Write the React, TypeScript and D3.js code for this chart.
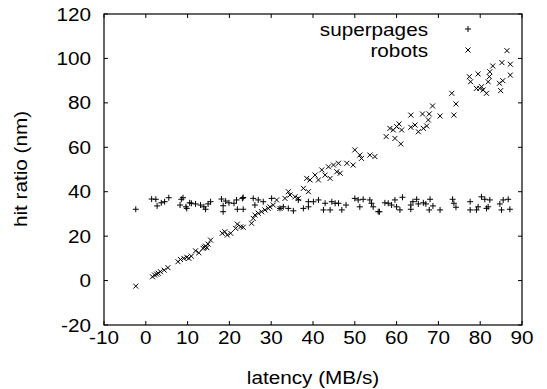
import React from "react";
import * as d3 from "d3";

const xTicks = [-10, 0, 10, 20, 30, 40, 50, 60, 70, 80, 90];
const yTicks = [-20, 0, 20, 40, 60, 80, 100, 120];

const superpagesX = [-2.4, 1.4, 2.4, 2.7, 3.7, 4.5, 5.5, 8.2, 8.5, 8.9, 9.6, 9.8, 10.5, 10.9, 11.9, 13.1, 13.9, 14.3, 14.9, 15.5, 18.1, 18.5, 18.5, 19.1, 19.9, 21.1, 21.9, 21.7, 23.1, 23.3, 23.3, 25.7, 26.1, 26.9, 28.1, 30.1, 32.1, 32.9, 34.1, 35.3, 36.5, 37.7, 38.9, 38.9, 40.1, 41.3, 42.5, 42.9, 44.1, 44.5, 45.3, 46.1, 46.9, 47.9, 50.0, 50.8, 51.2, 52.0, 53.6, 54.4, 55.6, 54.0, 55.9, 57.2, 58.0, 58.8, 59.6, 60.0, 60.8, 61.4, 63.4, 63.4, 63.9, 64.8, 65.2, 66.4, 67.0, 67.8, 68.0, 68.7, 70.4, 73.4, 73.7, 74.2, 77.6, 77.6, 79.1, 79.5, 80.3, 81.1, 81.5, 81.9, 82.3, 84.7, 85.1, 85.5, 86.7, 87.1];
const superpagesY = [32.1, 36.7, 36.6, 33.6, 35.0, 35.5, 37.3, 34.0, 36.6, 37.3, 33.2, 32.5, 35.0, 34.8, 34.5, 34.0, 33.2, 32.1, 34.5, 35.5, 36.7, 33.7, 31.0, 35.8, 35.0, 34.8, 32.1, 36.3, 37.0, 37.4, 32.1, 37.0, 34.0, 36.3, 35.5, 37.0, 32.5, 33.2, 32.5, 31.4, 36.3, 32.5, 33.2, 35.5, 35.5, 36.3, 31.8, 34.8, 31.8, 35.5, 34.8, 34.8, 31.8, 34.0, 37.0, 36.3, 33.2, 36.6, 36.3, 33.2, 31.0, 34.8, 31.0, 35.0, 34.8, 34.0, 36.3, 33.2, 31.8, 37.5, 34.0, 32.1, 35.5, 36.6, 34.5, 35.0, 34.5, 31.8, 36.6, 33.6, 31.8, 36.6, 34.8, 33.0, 35.5, 31.8, 31.8, 33.2, 37.7, 36.6, 32.5, 33.2, 36.3, 34.5, 31.8, 36.3, 36.6, 32.1];

const robotsX = [-2.4, 1.6, 2.1, 2.6, 3.0, 3.5, 4.4, 5.3, 7.7, 8.3, 9.1, 9.8, 10.3, 10.9, 11.9, 12.7, 13.7, 14.0, 14.3, 14.6, 14.9, 15.5, 18.3, 18.9, 19.5, 20.3, 21.5, 21.9, 22.7, 23.3, 25.3, 25.7, 26.1, 26.9, 27.7, 28.5, 29.3, 29.7, 30.5, 31.3, 32.1, 33.3, 34.1, 34.5, 35.7, 36.5, 37.7, 38.5, 38.9, 39.3, 40.5, 41.3, 42.1, 42.9, 43.7, 44.1, 44.9, 45.7, 46.1, 46.5, 48.1, 49.6, 50.0, 51.2, 51.6, 53.6, 54.8, 57.5, 58.4, 59.2, 59.6, 60.0, 60.6, 61.2, 61.0, 63.4, 63.4, 64.4, 65.2, 66.2, 66.4, 67.2, 67.6, 67.8, 68.6, 70.4, 73.2, 73.7, 74.2, 77.4, 77.7, 79.1, 79.5, 79.9, 80.3, 80.7, 81.5, 81.9, 82.2, 82.3, 83.0, 84.6, 84.9, 85.4, 85.2, 86.4, 87.2, 87.2];
const robotsY = [-2.5, 1.7, 2.5, 2.9, 3.3, 4.0, 4.7, 5.8, 8.5, 9.5, 10.0, 10.5, 10.0, 11.0, 13.4, 12.5, 14.5, 15.0, 15.5, 14.8, 16.4, 18.2, 21.3, 22.0, 20.5, 21.3, 23.5, 25.4, 24.2, 24.0, 25.8, 28.0, 29.5, 30.3, 31.0, 31.8, 32.5, 33.2, 34.0, 36.3, 32.5, 37.0, 40.0, 38.5, 37.7, 37.0, 41.5, 46.0, 40.0, 45.3, 47.5, 45.3, 49.8, 47.5, 51.2, 46.0, 52.0, 49.0, 52.8, 48.3, 52.8, 52.0, 58.8, 56.5, 55.0, 56.5, 55.8, 64.8, 68.5, 67.8, 64.0, 69.3, 70.5, 67.8, 61.5, 74.5, 69.0, 70.0, 67.0, 75.0, 68.5, 69.6, 72.3, 75.0, 78.6, 74.1, 84.3, 74.5, 79.5, 91.8, 89.5, 86.5, 93.0, 86.5, 87.3, 85.8, 84.3, 89.5, 91.8, 94.0, 96.6, 88.8, 85.5, 90.0, 98.1, 103.5, 97.4, 92.5];

const W = 547;
const H = 389;
const left = 104, right = 522, top = 14, bottom = 325;
const FONT = "'Liberation Sans', Arial, Helvetica, sans-serif";
const FS = 18.5;
const SX = 1.12;

function T({ x, y, anchor, rot, children }: { x: number; y: number; anchor: string; rot?: number; children: React.ReactNode }) {
  return (
    <text
      transform={`translate(${x},${y})${rot ? ` rotate(${rot})` : ""} scale(${SX},1)`}
      textAnchor={anchor}
      dominantBaseline="central"
      fontSize={FS}
      fill="#000"
    >
      {children}
    </text>
  );
}

export default function App() {
  const x = d3.scaleLinear().domain([-10, 90]).range([left, right]);
  const y = d3.scaleLinear().domain([-20, 120]).range([bottom, top]);
  const tl = 4;
  const plus = (cx: number, cy: number, k: string) => (
    <path key={k} d={`M${cx - 3},${cy}H${cx + 3}M${cx},${cy - 3}V${cy + 3}`} stroke="#000" strokeWidth={1} fill="none" />
  );
  const cross = (cx: number, cy: number, k: string) => (
    <path key={k} d={`M${cx - 2.5},${cy - 2.5}L${cx + 2.5},${cy + 2.5}M${cx - 2.5},${cy + 2.5}L${cx + 2.5},${cy - 2.5}`} stroke="#000" strokeWidth={1} fill="none" />
  );
  return (
    <svg width={W} height={H} style={{ position: "absolute", left: 0, top: 0 }} fontFamily={FONT}>
      <rect x={0} y={0} width={W} height={H} fill="#fff" />
      {xTicks.map((t) => (
        <g key={"xt" + t}>
          <line x1={x(t)} x2={x(t)} y1={bottom} y2={bottom - tl} stroke="#000" />
          <line x1={x(t)} x2={x(t)} y1={top} y2={top + tl} stroke="#000" />
          <T x={x(t)} y={bottom + 12} anchor="middle">{t}</T>
        </g>
      ))}
      {yTicks.map((t) => (
        <g key={"yt" + t}>
          <line x1={left} x2={left + tl} y1={y(t)} y2={y(t)} stroke="#000" />
          <line x1={right} x2={right - tl} y1={y(t)} y2={y(t)} stroke="#000" />
          <T x={left - 13} y={y(t)} anchor="end">{t}</T>
        </g>
      ))}
      <rect x={left} y={top} width={right - left} height={bottom - top} fill="none" stroke="#000" strokeWidth={1.2} />
      {superpagesX.map((v, i) => plus(x(v), y(superpagesY[i]), "s" + i))}
      {robotsX.map((v, i) => cross(x(v), y(robotsY[i]), "r" + i))}
      <T x={428} y={29} anchor="end">superpages</T>
      {plus(468, 29, "lg1")}
      <T x={428} y={50} anchor="end">robots</T>
      {cross(468, 50, "lg2")}
      <T x={(left + right) / 2} y={377} anchor="middle">latency (MB/s)</T>
      <T x={20} y={169} anchor="middle" rot={-90}>hit ratio (nm)</T>
    </svg>
  );
}
